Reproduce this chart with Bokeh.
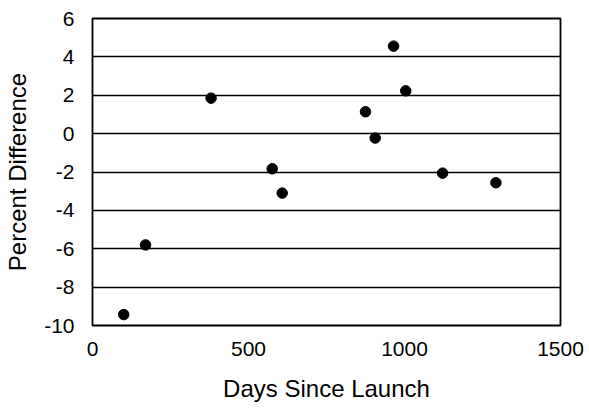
from bokeh.plotting import figure
from bokeh.models import FixedTicker, Range1d, ColumnDataSource
from bokeh.embed import file_html
from bokeh.resources import INLINE

days = [100, 170, 380, 576, 608, 875, 906, 965, 1004, 1122, 1293]
pct_diff = [-9.43, -5.8, 1.85, -1.83, -3.1, 1.14, -0.23, 4.56, 2.23, -2.06, -2.56]
x_ticks = [0, 500, 1000, 1500]
y_ticks = [-10, -8, -6, -4, -2, 0, 2, 4, 6]

src = ColumnDataSource(dict(x=days, y=pct_diff))

p = figure(width=589, height=408, output_backend="svg", toolbar_location=None,
           x_range=Range1d(0, 1500), y_range=Range1d(-10, 6),
           min_border_left=92, min_border_right=29, min_border_top=18, min_border_bottom=83)
p.frame_width = 468
p.frame_height = 307

p.scatter("x", "y", source=src, size=10.5, color="black")

font = "Liberation Sans"
p.xaxis.ticker = FixedTicker(ticks=x_ticks)
p.yaxis.ticker = FixedTicker(ticks=y_ticks)
p.xaxis.major_label_overrides = {t: str(t) for t in x_ticks}
p.yaxis.major_label_overrides = {t: str(t) for t in y_ticks}
for ax in (p.xaxis[0], p.yaxis[0]):
    ax.axis_line_color = None
    ax.major_tick_line_color = None
    ax.minor_tick_line_color = None
    ax.major_label_text_font = font
    ax.major_label_text_font_size = "21px"
    ax.major_label_text_color = "black"
    ax.axis_label_text_font = font
    ax.axis_label_text_font_size = "24px"
    ax.axis_label_text_font_style = "normal"
    ax.axis_label_text_color = "black"

p.xaxis.axis_label = "Days Since Launch"
p.yaxis.axis_label = "Percent Difference"
p.xaxis.major_label_standoff = 10
p.yaxis.major_label_standoff = 12
p.xaxis.axis_label_standoff = 16
p.yaxis.axis_label_standoff = 10

p.xgrid.grid_line_color = None
p.ygrid.grid_line_color = "black"
p.ygrid.grid_line_width = 1.3
p.outline_line_color = "black"
p.outline_line_width = 1.8
p.background_fill_color = "white"
p.border_fill_color = "white"

open("out.html", "w").write(file_html(p, INLINE))
